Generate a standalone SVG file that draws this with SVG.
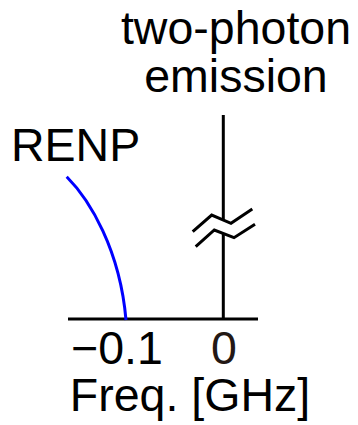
<svg xmlns="http://www.w3.org/2000/svg" width="358" height="425" viewBox="0 0 358 425">
<style>
text{font-family:"Liberation Sans",Arial,sans-serif;font-size:46.5px;fill:#000}
.ax{stroke:#000;stroke-width:3;fill:none}
</style>
<rect width="358" height="425" fill="#fff"/>
<g id="connectors">
<line class="ax" x1="68" y1="319" x2="258" y2="319"/>
<line class="ax" x1="223.3" y1="115" x2="223.3" y2="319"/>
<polygon points="192.7,231.7 211.7,215 231,223.3 252.3,209 255,224.3 234,237.7 214.3,230 195.7,246.7" fill="#fff"/>
<polyline class="ax" points="192.7,231.7 211.7,215 231,223.3 252.3,209"/>
<polyline class="ax" points="195.7,246.7 214.3,230 234,237.7 255,224.3"/>
<path d="M66.7,176.7 C90,200 120,250 126,320" stroke="#0000ff" stroke-width="3" fill="none"/>
</g>
<g id="label-two-photon"><text x="236" y="44" text-anchor="middle">two-photon</text><text x="236" y="92" text-anchor="middle">emission</text></g>
<g id="label-renp"><text x="11" y="161">RENP</text></g>
<g id="tick-labels"><text x="71" y="364">−0.1</text><text x="224" y="364" text-anchor="middle" style="fill:#231815">0</text></g>
<g id="axis-title"><text x="190" y="411" text-anchor="middle">Freq. [GHz]</text></g>
</svg>
